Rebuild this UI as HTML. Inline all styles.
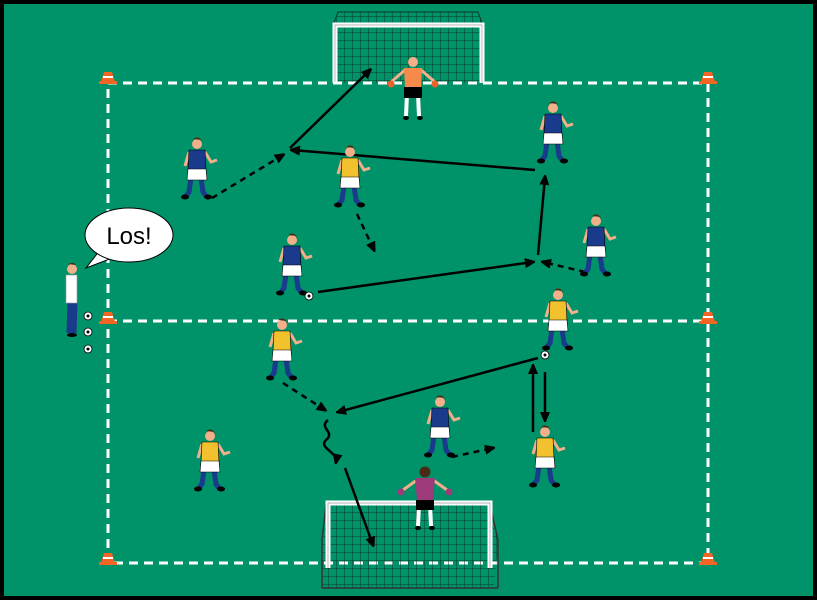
<!DOCTYPE html>
<html><head><meta charset="utf-8"><style>
html,body{margin:0;padding:0;background:#000;}
svg{display:block;}
</style></head><body>
<svg width="817" height="600" viewBox="0 0 817 600" xmlns="http://www.w3.org/2000/svg">
<defs>
<pattern id="net" width="8" height="8" patternUnits="userSpaceOnUse">
<path d="M0 0H8M0 0V8" stroke="#0b3a28" stroke-width="1" fill="none"/>
</pattern>
<marker id="ah" markerWidth="10" markerHeight="10" refX="8" refY="5" orient="auto" markerUnits="userSpaceOnUse">
<path d="M0 0L12 5L0 10Z" fill="#000"/>
</marker>
<g id="pl">
<path d="M-6 38L-8 52L-11 56" stroke="#1a3a8c" stroke-width="5" fill="none"/>
<path d="M4 38L6 52L9 56" stroke="#1a3a8c" stroke-width="5" fill="none"/>
<ellipse cx="-12" cy="57" rx="4" ry="2.5" fill="#000"/>
<ellipse cx="11" cy="57" rx="4" ry="2.5" fill="#000"/>
<path d="M-8 12L-12 26M8 12L14 22L20 20" stroke="#f2b08a" stroke-width="3" fill="none"/>
<path d="M-8 10H8L9 30H-9Z" fill="currentColor" stroke="#000" stroke-width="0.6"/>
<path d="M-9 29H9L10 40H-10Z" fill="#fff" stroke="#000" stroke-width="0.6"/>
<circle cx="0" cy="4" r="5" fill="#f2b08a"/>
<path d="M-5 3A5 5 0 0 1 5 2L5 0L-4 -1Z" fill="#4a2a14"/>
</g>
<g id="ball"><circle r="4" fill="#fff" stroke="#000" stroke-width="0.8"/><circle r="1.5" fill="#000"/></g>
<g id="cone"><path d="M-4 -8L4 -8L7 2L-7 2Z" fill="#f26522"/><path d="M-5 -3H5" stroke="#fff" stroke-width="2"/><rect x="-9" y="1" width="18" height="3" fill="#f26522"/></g>
</defs>
<rect x="0" y="0" width="817" height="600" fill="#000"/>
<rect x="4" y="4" width="809" height="592" fill="#00936a"/>

<!-- top goal -->
<path d="M338 12H478L482 23H334Z" fill="url(#net)" stroke="#0b3a28"/>
<rect x="336" y="25" width="146" height="58" fill="url(#net)"/>
<path d="M335 83V25H482V83" stroke="#fff" stroke-width="5" fill="none"/>
<path d="M335 83V25H482V83" stroke="#999" stroke-width="0.7" fill="none"/>

<!-- field lines -->
<g stroke="#fff" stroke-width="3" stroke-dasharray="9 6" fill="none">
<rect x="108" y="83" width="600" height="480"/>
<line x1="108" y1="321" x2="708" y2="321"/>
</g>

<!-- bottom goal -->
<path d="M322 540L330 505H490L498 540L494 588H322Z" fill="url(#net)"/>
<path d="M322 588V540L326 505M498 588V540L490 505M322 588H498" stroke="#333" stroke-width="1.5" fill="none"/>
<path d="M328 568V503H490V568" stroke="#fff" stroke-width="5" fill="none"/>
<path d="M328 568V503H490V568" stroke="#999" stroke-width="0.7" fill="none"/>

<!-- cones -->
<use href="#cone" x="108" y="80"/><use href="#cone" x="708" y="80"/>
<use href="#cone" x="108" y="320"/><use href="#cone" x="708" y="320"/>
<use href="#cone" x="108" y="561"/><use href="#cone" x="708" y="561"/>

<!-- solid arrows -->
<g stroke="#000" stroke-width="2.5" fill="none" marker-end="url(#ah)">
<line x1="290" y1="148" x2="370" y2="70"/>
<line x1="535" y1="170" x2="292" y2="150"/>
<line x1="318" y1="292" x2="533" y2="262"/>
<line x1="538" y1="255" x2="545" y2="177"/>
<line x1="538" y1="358" x2="338" y2="412"/>
<line x1="533" y1="432" x2="533" y2="366"/>
<line x1="545" y1="372" x2="545" y2="420"/>
<line x1="345" y1="468" x2="373" y2="545"/>
</g>
<g stroke="#000" stroke-width="2.5" fill="none" stroke-dasharray="6 5" marker-end="url(#ah)">
<line x1="212" y1="198" x2="283" y2="155"/>
<line x1="357" y1="214" x2="374" y2="250"/>
<line x1="585" y1="272" x2="543" y2="262"/>
<line x1="283" y1="383" x2="325" y2="410"/>
<line x1="452" y1="457" x2="493" y2="448"/>
</g>
<path d="M328 420C318 428 336 432 326 440C318 448 338 452 336 462" stroke="#000" stroke-width="2.5" fill="none" marker-end="url(#ah)"/>

<!-- players -->
<use href="#pl" x="197" y="140" color="#1a3a8c"/>
<use href="#pl" x="350" y="148" color="#f2c12e"/>
<use href="#pl" x="553" y="104" color="#1a3a8c"/>
<use href="#pl" x="292" y="236" color="#1a3a8c"/>
<use href="#pl" x="596" y="217" color="#1a3a8c"/>
<use href="#pl" x="558" y="291" color="#f2c12e"/>
<use href="#pl" x="282" y="321" color="#f2c12e"/>
<use href="#pl" x="210" y="432" color="#f2c12e"/>
<use href="#pl" x="440" y="398" color="#1a3a8c"/>
<use href="#pl" x="545" y="428" color="#f2c12e"/>
<!-- keepers -->
<g transform="translate(413,58)">
<path d="M-6 36L-7 58M5 36L6 58" stroke="#fff" stroke-width="4"/>
<path d="M-8 12L-22 24M8 12L22 24" stroke="#f2b08a" stroke-width="3"/>
<circle cx="-22" cy="26" r="3.5" fill="#e8622a"/><circle cx="22" cy="26" r="3.5" fill="#e8622a"/>
<path d="M-9 10H9L8 30H-8Z" fill="#f58a4a"/>
<rect x="-9" y="29" width="18" height="11" fill="#000"/>
<circle cx="0" cy="4" r="5" fill="#f2b08a"/>
<ellipse cx="-7" cy="60" rx="3" ry="2" fill="#000"/><ellipse cx="7" cy="60" rx="3" ry="2" fill="#000"/>
</g>
<g transform="translate(425,468)">
<path d="M-6 36L-7 58M5 36L6 58" stroke="#fff" stroke-width="4"/>
<path d="M-8 12L-22 22M8 12L22 22" stroke="#f2b08a" stroke-width="3"/>
<circle cx="-24" cy="24" r="3.5" fill="#9c3a7a"/><circle cx="24" cy="24" r="3.5" fill="#9c3a7a"/>
<path d="M-10 10H10L8 32H-8Z" fill="#9c3a7a"/>
<rect x="-9" y="32" width="18" height="10" fill="#000"/>
<circle cx="0" cy="4" r="5.5" fill="#4a2a14"/>
<ellipse cx="-7" cy="60" rx="3" ry="2" fill="#000"/><ellipse cx="7" cy="60" rx="3" ry="2" fill="#000"/>
</g>
<!-- coach -->
<g transform="translate(72,265)">
<path d="M-2 36L-3 68M3 36L2 68" stroke="#1a3a8c" stroke-width="5"/>
<rect x="-6" y="10" width="11" height="28" fill="#fff" stroke="#999" stroke-width="0.6"/>
<circle cx="0" cy="4" r="5" fill="#f2b08a"/>
<path d="M-5 3A5 5 0 0 1 4 0L-4 -1Z" fill="#4a2a14"/>
<ellipse cx="0" cy="70" rx="5" ry="2" fill="#000"/>
</g>
<use href="#ball" x="88" y="316"/><use href="#ball" x="88" y="332"/><use href="#ball" x="88" y="349"/>
<use href="#ball" x="309" y="296"/><use href="#ball" x="545" y="355"/>

<!-- speech bubble -->
<path d="M100 250L86 268L115 257Z" fill="#fff" stroke="#000" stroke-width="1"/>
<ellipse cx="129" cy="235" rx="44" ry="27" fill="#fff" stroke="#000" stroke-width="1"/>
<path d="M100 249L114 257" stroke="#fff" stroke-width="3"/>
<text x="129" y="244" font-family="Liberation Sans, sans-serif" font-size="24" text-anchor="middle" fill="#000">Los!</text>
</svg>
</body></html>
